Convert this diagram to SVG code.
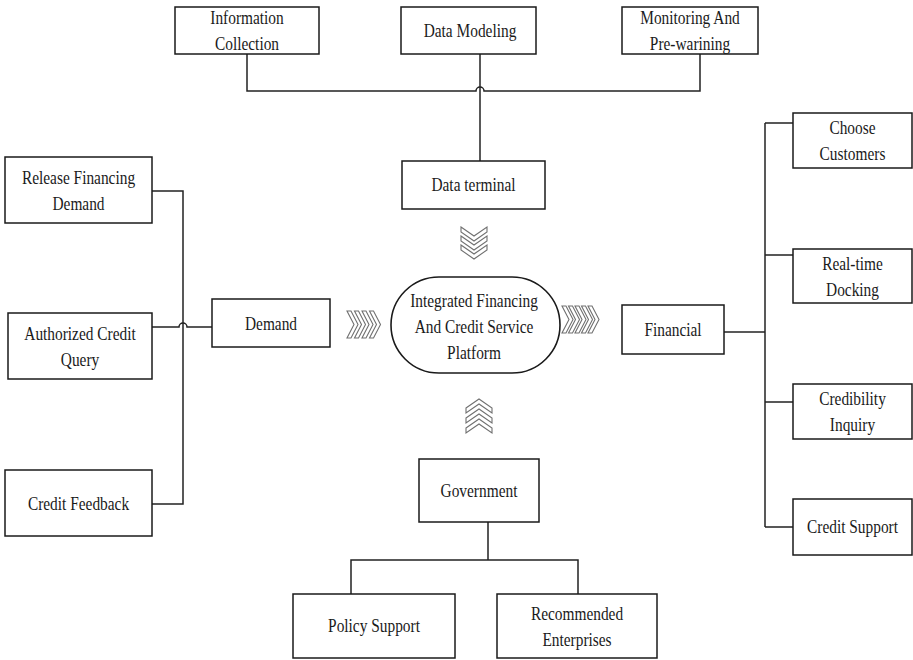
<svg xmlns="http://www.w3.org/2000/svg" xmlns:xlink="http://www.w3.org/1999/xlink" width="913" height="660" viewBox="0 0 913 660">
<style>
  .box { fill: #ffffff; stroke: #1a1a1a; stroke-width: 1.5; }
  .pill { fill: #ffffff; stroke: #1a1a1a; stroke-width: 1.6; }
  .line { fill: none; stroke: #222222; stroke-width: 1.5; }
  .chev { fill: #ffffff; stroke: #707070; stroke-width: 1.1; stroke-linejoin: miter; }
  .t { font-family: "Liberation Serif", "Times New Roman", serif; font-size: 18px; fill: #1a1a1a; text-anchor: middle; }
</style>
<defs>
  <polygon id="chevR" class="chev" points="0,0 4,0 11,13.5 4,27 0,27 7,13.5"/>
  <polygon id="chevD" class="chev" points="0,0 13,9 26,0 26,5 13,14 0,5"/>
  <polygon id="chevU" class="chev" points="0,9 13,0 26,9 26,14 13,5 0,14"/>
</defs>
<rect width="913" height="660" fill="#ffffff"/>

<g id="connectors">
  <path class="line" d="M247,54 V91 H476 A4,4 0 0 1 484,91 H700 V54"/>
  <path class="line" d="M480,54 V161"/>
  <path class="line" d="M152,191 H183 V504 H152"/>
  <path class="line" d="M152,327 H179 A4,4 0 0 1 187,327 H212"/>
  <path class="line" d="M724,332 H765"/>
  <path class="line" d="M765,123 V527"/>
  <path class="line" d="M765,123 H793 M765,255 H793 M765,402 H793 M765,527 H793"/>
  <path class="line" d="M488,522 V560 M351,594 V560 H578 V594"/>
</g>

<g id="flow-arrows">
  <g id="arrows-down">
    <use xlink:href="#chevD" x="461" y="227"/>
    <use xlink:href="#chevD" x="461" y="236"/>
    <use xlink:href="#chevD" x="461" y="245"/>
  </g>
  <g id="arrows-left-in">
    <use xlink:href="#chevR" x="347" y="311"/>
    <use xlink:href="#chevR" x="354.5" y="311"/>
    <use xlink:href="#chevR" x="362" y="311"/>
    <use xlink:href="#chevR" x="369.5" y="311"/>
  </g>
  <g id="arrows-right-out">
    <use xlink:href="#chevR" x="562" y="306"/>
    <use xlink:href="#chevR" x="568.5" y="306"/>
    <use xlink:href="#chevR" x="575" y="306"/>
    <use xlink:href="#chevR" x="581.5" y="306"/>
    <use xlink:href="#chevR" x="588" y="306"/>
  </g>
  <g id="arrows-up">
    <use xlink:href="#chevU" x="466" y="419"/>
    <use xlink:href="#chevU" x="466" y="409"/>
    <use xlink:href="#chevU" x="466" y="399"/>
  </g>
</g>

<g id="node-information-collection">
  <rect class="box" x="175" y="7" width="144" height="47"/>
  <text class="t" transform="matrix(0.855,0,0,1,247,0)"><tspan x="0" y="24.5">Information</tspan><tspan x="0" y="50.5">Collection</tspan></text>
</g>
<g id="node-data-modeling">
  <rect class="box" x="401" y="7" width="135" height="47"/>
  <text class="t" transform="matrix(0.855,0,0,1,470,0)" x="0" y="37">Data Modeling</text>
</g>
<g id="node-monitoring">
  <rect class="box" x="622" y="7" width="136" height="47"/>
  <text class="t" transform="matrix(0.855,0,0,1,690,0)"><tspan x="0" y="24.5">Monitoring And</tspan><tspan x="0" y="50.5">Pre-warining</tspan></text>
</g>
<g id="node-data-terminal">
  <rect class="box" x="402" y="161" width="143" height="48"/>
  <text class="t" transform="matrix(0.855,0,0,1,473.5,0)" x="0" y="191">Data terminal</text>
</g>
<g id="node-platform">
  <rect class="pill" x="391" y="277" width="169" height="96" rx="48" ry="48"/>
  <text class="t" transform="matrix(0.855,0,0,1,474,0)"><tspan x="0" y="307">Integrated Financing</tspan><tspan x="0" y="333">And Credit Service</tspan><tspan x="0" y="359">Platform</tspan></text>
</g>
<g id="node-release-financing-demand">
  <rect class="box" x="5" y="157" width="147" height="66"/>
  <text class="t" transform="matrix(0.855,0,0,1,78.5,0)"><tspan x="0" y="184">Release Financing</tspan><tspan x="0" y="210">Demand</tspan></text>
</g>
<g id="node-authorized-credit-query">
  <rect class="box" x="8" y="313" width="144" height="66"/>
  <text class="t" transform="matrix(0.855,0,0,1,80,0)"><tspan x="0" y="340">Authorized Credit</tspan><tspan x="0" y="366">Query</tspan></text>
</g>
<g id="node-credit-feedback">
  <rect class="box" x="5" y="470" width="147" height="66"/>
  <text class="t" transform="matrix(0.855,0,0,1,78.5,0)" x="0" y="510">Credit Feedback</text>
</g>
<g id="node-demand">
  <rect class="box" x="212" y="299" width="118" height="48"/>
  <text class="t" transform="matrix(0.855,0,0,1,271,0)" x="0" y="330">Demand</text>
</g>
<g id="node-financial">
  <rect class="box" x="622" y="305" width="102" height="49"/>
  <text class="t" transform="matrix(0.855,0,0,1,673,0)" x="0" y="336">Financial</text>
</g>
<g id="node-choose-customers">
  <rect class="box" x="793" y="113" width="119" height="55"/>
  <text class="t" transform="matrix(0.855,0,0,1,852.5,0)"><tspan x="0" y="134.5">Choose</tspan><tspan x="0" y="160.5">Customers</tspan></text>
</g>
<g id="node-real-time-docking">
  <rect class="box" x="793" y="249" width="119" height="54"/>
  <text class="t" transform="matrix(0.855,0,0,1,852.5,0)"><tspan x="0" y="270">Real-time</tspan><tspan x="0" y="296">Docking</tspan></text>
</g>
<g id="node-credibility-inquiry">
  <rect class="box" x="793" y="384" width="119" height="55"/>
  <text class="t" transform="matrix(0.855,0,0,1,852.5,0)"><tspan x="0" y="405.5">Credibility</tspan><tspan x="0" y="431.5">Inquiry</tspan></text>
</g>
<g id="node-credit-support">
  <rect class="box" x="793" y="499" width="119" height="56"/>
  <text class="t" transform="matrix(0.855,0,0,1,852.5,0)" x="0" y="533">Credit Support</text>
</g>
<g id="node-government">
  <rect class="box" x="419" y="459" width="120" height="63"/>
  <text class="t" transform="matrix(0.855,0,0,1,479,0)" x="0" y="497">Government</text>
</g>
<g id="node-policy-support">
  <rect class="box" x="293" y="594" width="162" height="64"/>
  <text class="t" transform="matrix(0.855,0,0,1,374,0)" x="0" y="632">Policy Support</text>
</g>
<g id="node-recommended-enterprises">
  <rect class="box" x="497" y="594" width="160" height="64"/>
  <text class="t" transform="matrix(0.855,0,0,1,577,0)"><tspan x="0" y="620">Recommended</tspan><tspan x="0" y="646">Enterprises</tspan></text>
</g>
</svg>
